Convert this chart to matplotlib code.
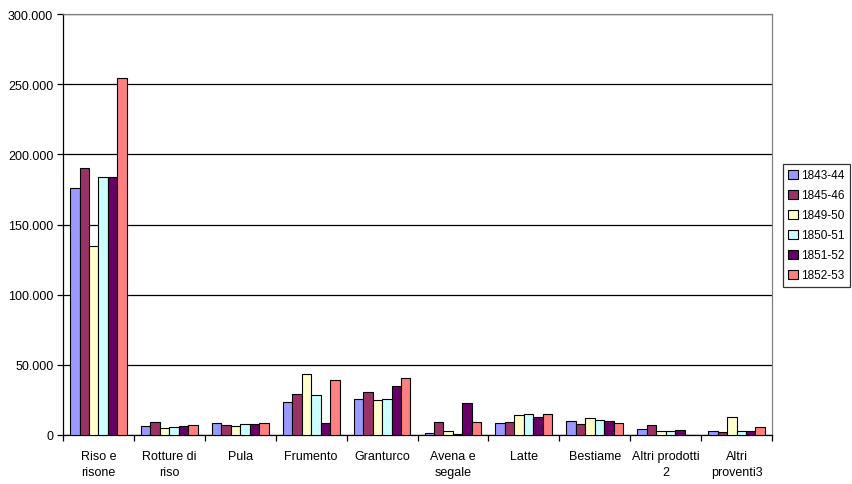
import matplotlib
matplotlib.use("Agg")
import matplotlib.pyplot as plt
import numpy as np
from matplotlib.ticker import FuncFormatter, FixedLocator

categories = ["Riso e\nrisone", "Rotture di\nriso", "Pula", "Frumento", "Granturco",
              "Avena e\nsegale", "Latte", "Bestiame", "Altri prodotti\n2", "Altri\nproventi3"]
series_names = ["1843-44", "1845-46", "1849-50", "1850-51", "1851-52", "1852-53"]
s1843 = [176000, 6200, 8300, 23300, 25400, 1200, 8300, 9700, 4000, 2600]
s1845 = [190300, 9000, 6900, 29000, 30400, 9000, 9000, 7600, 6900, 1900]
s1849 = [134900, 4800, 6200, 43200, 24700, 2600, 14000, 11900, 2600, 12600]
s1850 = [183800, 5500, 7600, 28300, 25400, 500, 14700, 10400, 2600, 2600]
s1851 = [183800, 6200, 7600, 8300, 34700, 22600, 12600, 9700, 3300, 2600]
s1852 = [254200, 6900, 8300, 39000, 40400, 9000, 14700, 8300, 0, 5500]
series = [s1843, s1845, s1849, s1850, s1851, s1852]
colors = ["#9999FF", "#993366", "#FFFFCC", "#CCFFFF", "#660066", "#FF8080"]

plt.rcParams['font.family'] = ['Liberation Sans', 'DejaVu Sans']
fig = plt.figure(figsize=(8.52, 4.85), dpi=100)
ax = fig.add_axes([63/852, 1-436/485, (772-63)/852, (436-15)/485])

n = len(categories)
x = np.arange(n)
bw = 0.8 / 6
for i, (name, vals, c) in enumerate(zip(series_names, series, colors)):
    ax.bar(x - 0.4 + bw * (i + 0.5), vals, width=bw, color=c, edgecolor="black",
           linewidth=0.8, label=name, zorder=3)

ax.set_xlim(-0.5, n - 0.5)
ax.set_ylim(0, 300000)
ax.set_yticks(np.arange(0, 300001, 50000))
ax.yaxis.set_major_formatter(FuncFormatter(lambda v, p: f"{int(v):,}".replace(",", ".")))
ax.yaxis.grid(True, color="black", linewidth=0.9, zorder=0)
ax.set_axisbelow(True)

ax.xaxis.set_major_locator(FixedLocator(np.arange(-0.5, n, 1.0)))
ax.xaxis.set_major_formatter(FuncFormatter(lambda v, p: ""))
ax.xaxis.set_minor_locator(FixedLocator(x))
ax.set_xticklabels(categories, minor=True)
for t in ax.get_xticklabels(minor=True):
    t.set_linespacing(1.45)
ax.tick_params(axis="x", which="minor", length=0, pad=11, labelsize=9)
ax.tick_params(axis="x", which="major", length=4, direction="out", width=0.9)
ax.tick_params(axis="y", length=4, direction="out", width=0.9, labelsize=9, pad=3)

for s in ["left", "bottom"]:
    ax.spines[s].set_color("black")
    ax.spines[s].set_linewidth(0.9)
for s in ["top", "right"]:
    ax.spines[s].set_color("#808080")
    ax.spines[s].set_linewidth(0.9)

leg = fig.legend(loc="upper left", bbox_to_anchor=(783/852, 1-165/485), frameon=True,
                 fancybox=False, edgecolor="black", fontsize=8.5, handlelength=0.8,
                 handleheight=0.8, handletextpad=0.25, borderpad=0.45, labelspacing=0.68,
                 borderaxespad=0)
leg.get_frame().set_linewidth(0.9)

fig.savefig("out.png", dpi=100)
